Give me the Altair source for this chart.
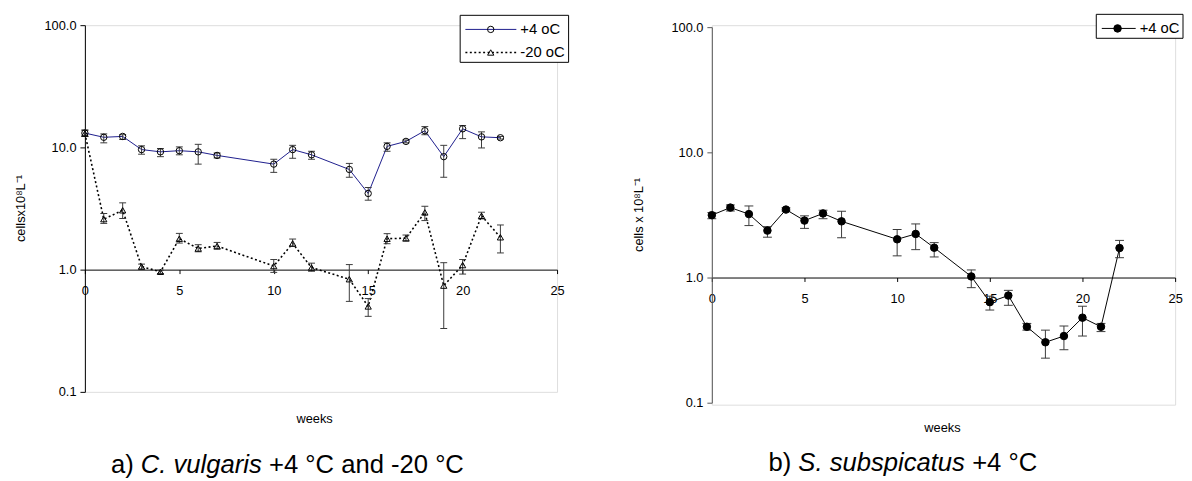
import altair as alt
import pandas as pd

# ---------------- data ----------------
weeks = [0, 1, 2, 3, 4, 5, 6, 7, 10, 11, 12, 14, 15, 16, 17, 18, 19, 20, 21, 22]

# a) C. vulgaris, +4 oC
cv_p4 = [13.1, 12.1, 12.3, 9.6, 9.2, 9.4, 9.2, 8.6, 7.3, 9.6, 8.7, 6.6, 4.2, 10.2, 11.2, 13.7, 8.4, 14.2, 12.2, 12.0]
cv_p4_lo = [12.3, 10.9, 11.6, 8.8, 8.4, 8.7, 7.3, 8.2, 6.25, 8.15, 8.0, 5.7, 3.7, 9.3, 10.9, 12.7, 5.7, 11.8, 9.9, 11.7]
cv_p4_hi = [13.9, 12.9, 12.7, 10.3, 9.8, 10.1, 10.6, 9.0, 8.0, 10.4, 9.3, 7.4, 4.7, 10.9, 11.5, 14.8, 10.4, 15.1, 13.4, 12.3]

# a) C. vulgaris, -20 oC
cv_m20 = [13.0, 2.59, 3.06, 1.06, 0.96, 1.79, 1.49, 1.56, 1.07, 1.64, 1.04, 0.835, 0.50, 1.79, 1.81, 2.94, 0.74, 1.09, 2.76, 1.84]
cv_m20_lo = [12.3, 2.39, 2.62, 1.01, 0.93, 1.65, 1.40, 1.47, 0.95, 1.55, 0.97, 0.55, 0.415, 1.63, 1.71, 2.52, 0.33, 0.92, 2.60, 1.37]
cv_m20_hi = [13.8, 2.88, 3.52, 1.11, 0.99, 1.98, 1.60, 1.67, 1.21, 1.78, 1.13, 1.10, 0.58, 1.97, 1.92, 3.30, 1.14, 1.21, 2.95, 2.32]

# b) S. subspicatus, +4 oC
ss_p4 = [3.15, 3.62, 3.21, 2.37, 3.49, 2.85, 3.25, 2.81, 2.02, 2.23, 1.73, 1.02, 0.636, 0.718, 0.404, 0.304, 0.341, 0.478, 0.404, 1.72]
ss_p4_lo = [2.95, 3.40, 2.60, 2.10, 3.40, 2.47, 2.95, 2.08, 1.49, 1.67, 1.46, 0.83, 0.55, 0.60, 0.38, 0.227, 0.265, 0.341, 0.37, 1.44]
ss_p4_hi = [3.30, 3.80, 3.73, 2.55, 3.60, 3.11, 3.45, 3.39, 2.42, 2.68, 1.90, 1.15, 0.71, 0.79, 0.43, 0.38, 0.41, 0.59, 0.43, 1.98]

series_a = ["+4 oC", "-20 oC"]
series_b = ["+4 oC"]
x_ticks = [0, 5, 10, 15, 20, 25]
y_ticks = [0.1, 1, 10, 100]
x_title = "weeks"
y_title_a = "cellsx10\u2078L\u207b\u00b9"
y_title_b = "cells x 10\u2078L\u207b\u00b9"
caption_a = [("a) ", "normal"), ("C. vulgaris", "italic"), (" +4 \u00b0C and -20 \u00b0C", "normal")]
caption_b = [("b) ", "normal"), ("S. subspicatus", "italic"), (" +4 \u00b0C", "normal")]

FONT = "Liberation Sans"

# Arial / Liberation Sans advance widths (per 1000 em) for caption layout
W = {" ": 278, "a": 556, ")": 333, "C": 722, ".": 278, "v": 500, "u": 556, "l": 222,
     "g": 556, "r": 333, "i": 222, "s": 500, "+": 584, "4": 556, "\u00b0": 400, "n": 556,
     "d": 556, "-": 333, "2": 556, "0": 556, "b": 556, "S": 667, "p": 556, "c": 500, "t": 278}


def text_width(s, size):
    return sum(W.get(ch, 556) for ch in s) / 1000.0 * size


def one():
    return pd.DataFrame({"k": [0]})


def panel(frames, width, height, y_range, x_offset, cap_size, y_domain_color, legend, ytitle,
          ytitle_pos, weeks_pos, caption, caption_pos, point_styles):
    xs = alt.Scale(domain=[0, 25], nice=False, zero=False)
    ys = alt.Scale(type="log", domain=[0.1, 100], nice=False, range=y_range)
    xa = alt.Axis(values=x_ticks, offset=x_offset, title=None, grid=False, tickSize=4,
                  labelPadding=11, labelFontSize=13, labelFont=FONT, labelColor="black",
                  domainColor="black", tickColor="black", labelFlush=False, labelOverlap=False)
    ya = alt.Axis(values=y_ticks, format=".1f", title=None, grid=False, tickSize=5,
                  labelPadding=4, labelFontSize=13, labelFont=FONT, labelColor="black",
                  domainColor=y_domain_color, tickColor=y_domain_color, labelFlush=False,
                  labelOverlap=False)
    X = alt.X("week:Q", scale=xs, axis=xa)

    layers = []
    for df, ps in zip(frames, point_styles):
        line_color, dash, lw = ps[0]
        kw = dict(color=line_color, strokeWidth=lw)
        if dash:
            kw["strokeDash"] = dash
        layers.append(alt.Chart(df).mark_line(**kw).encode(
            x=X, y=alt.Y("value:Q", scale=ys, axis=ya), order="week:Q"))
    for df in frames:
        layers.append(alt.Chart(df).mark_rule(color="#3a3a3a", strokeWidth=1).encode(
            x=X, y=alt.Y("lo:Q", scale=ys, axis=ya), y2="hi:Q"))
        for f in ["lo", "hi"]:
            layers.append(alt.Chart(df).mark_tick(orient="horizontal", size=cap_size, thickness=1,
                                                  color="#3a3a3a", opacity=1).encode(
                x=X, y=alt.Y(f + ":Q", scale=ys, axis=ya)))
    for df, ps in zip(frames, point_styles):
        layers.append(alt.Chart(df).mark_point(**ps[1]).encode(
            x=X, y=alt.Y("value:Q", scale=ys, axis=ya)))

    # legend
    (bx0, bx1, by0, by1), entries = legend
    layers.append(alt.Chart(one()).mark_rect(fill="white", stroke="black", strokeWidth=1).encode(
        x=alt.value(bx0), x2=alt.value(bx1), y=alt.value(by0), y2=alt.value(by1)))
    for (name, ly, lx0, lx1, mx, tx), ps in zip(entries, point_styles):
        line_color, dash, lw = ps[0]
        kw = dict(color=line_color, strokeWidth=lw)
        if dash:
            kw["strokeDash"] = dash
        layers.append(alt.Chart(one()).mark_rule(**kw).encode(
            x=alt.value(lx0), x2=alt.value(lx1), y=alt.value(ly)))
        layers.append(alt.Chart(one()).mark_point(**ps[1]).encode(
            x=alt.value(mx), y=alt.value(ly)))
        layers.append(alt.Chart(pd.DataFrame({"label": [name]})).mark_text(
            align="left", baseline="middle", font=FONT, fontSize=15, color="black").encode(
            x=alt.value(tx), y=alt.value(ly), text="label:N"))

    # axis titles
    layers.append(alt.Chart(pd.DataFrame({"t": [ytitle]})).mark_text(
        angle=270, align="center", baseline="middle", font=FONT, fontSize=13, color="black").encode(
        x=alt.value(ytitle_pos[0]), y=alt.value(ytitle_pos[1]), text="t:N"))
    layers.append(alt.Chart(pd.DataFrame({"t": [x_title]})).mark_text(
        align="center", baseline="middle", font=FONT, fontSize=13, color="black").encode(
        x=alt.value(weeks_pos[0]), y=alt.value(weeks_pos[1]), text="t:N"))

    # caption (mixed normal / italic); SVG drops leading spaces, so advance past them
    csize = 26
    total = sum(text_width(s, csize) for s, _ in caption)
    cx = caption_pos[0] - total / 2.0
    for s, style in caption:
        stripped = s.lstrip(" ")
        lead = text_width(s[: len(s) - len(stripped)], csize)
        layers.append(alt.Chart(pd.DataFrame({"t": [stripped]})).mark_text(
            align="left", baseline="middle", font=FONT, fontSize=csize, fontStyle=style,
            color="black").encode(
            x=alt.value(cx + lead), y=alt.value(caption_pos[1]), text="t:N"))
        cx += text_width(s, csize)

    return alt.layer(*layers).properties(width=width, height=height)


def frame(vals, lo, hi, name):
    return pd.DataFrame({"week": weeks, "value": vals, "lo": lo, "hi": hi, "series": name})


df_a1 = frame(cv_p4, cv_p4_lo, cv_p4_hi, series_a[0])
df_a2 = frame(cv_m20, cv_m20_lo, cv_m20_hi, series_a[1])
df_b1 = frame(ss_p4, ss_p4_lo, ss_p4_hi, series_b[0])

style_a1 = (("#1c1c8c", None, 1),
            dict(shape="circle", filled=False, stroke="black", strokeWidth=1, size=42, opacity=1))
style_a2 = (("black", [2, 2.5], 1.6),
            dict(shape="triangle-up", filled=False, stroke="black", strokeWidth=1, size=40, opacity=1))
style_b1 = (("black", None, 1),
            dict(shape="circle", filled=True, fill="black", stroke="black", strokeWidth=1, size=58, opacity=1))

left = panel(
    [df_a1, df_a2], 479, 372, [372, 0], -124, 7, "black",
    ((380.7, 490.7, -10, 37.7),
     [(series_a[0], 4.3, 386, 437.7, 411.7, 441.7),
      (series_a[1], 27.7, 386, 437.7, 411.7, 441.7)]),
    y_title_a, (-65, 186), (233, 400), caption_a, (205.5, 446),
    [style_a1, style_a2])

right = panel(
    [df_b1], 470, 385, [383, 2], -129, 9, "#555555",
    ((390, 478, -11, 13.3),
     [(series_b[0], 3.3, 395.6, 430, 411.6, 434)]),
    y_title_b, (-73.7, 192.5), (234, 409), caption_b, (193.8, 444),
    [style_b1])

chart = alt.hconcat(left, right, spacing=63).properties(
    padding={"left": 6, "top": 2, "right": 0, "bottom": 0}
).configure_view(stroke=None).configure(font=FONT)

chart.save("out.html", embed_options={"renderer": "svg", "actions": False})
